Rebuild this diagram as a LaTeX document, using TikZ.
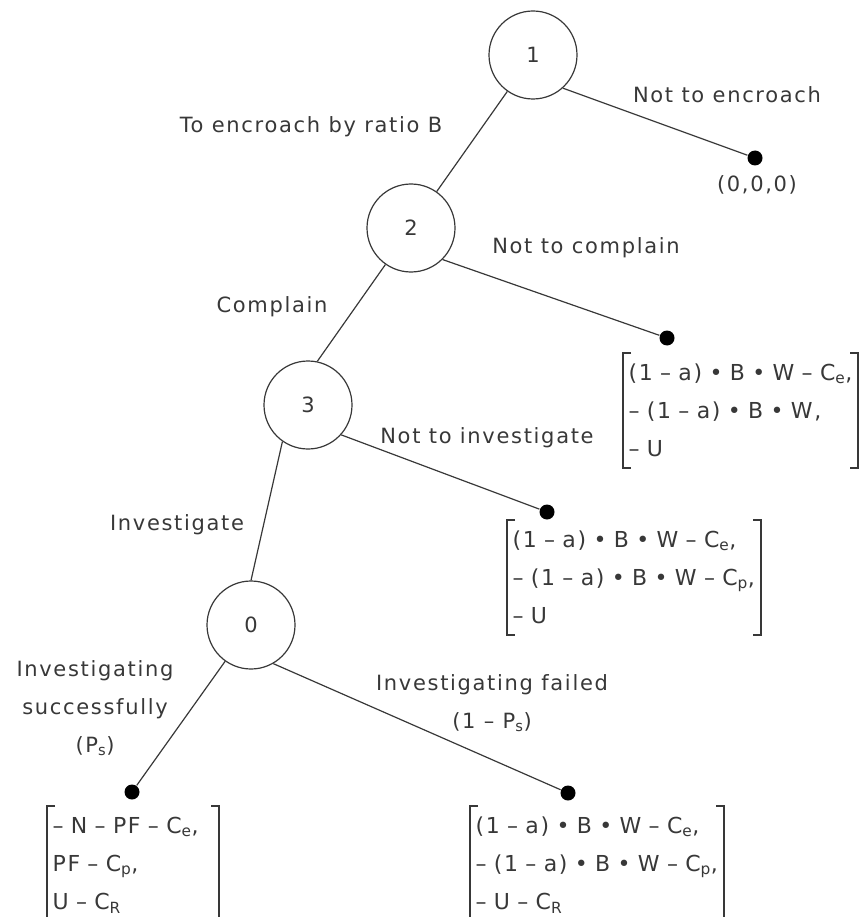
\documentclass[tikz,border=0pt]{standalone}
\usepackage{fontspec}
\setmainfont{DejaVu Sans}[LetterSpace=8]
\usepackage{tikz}

\newcommand\brackets[1]{%
  \draw[bracket] ([xshift=8pt]#1.north west) -| (#1.south west) -- ++(8pt,0);
  \draw[bracket] ([xshift=-8pt]#1.north east) -| (#1.south east) -- ++(-8pt,0);}

\begin{document}
\begin{tikzpicture}[x = 1pt, y = -1pt, line width = 1.2pt, color = black!78,
  font = \fontsize{21}{38}\selectfont,
  state/.style = {circle, draw, minimum size = 88pt, inner sep = 0pt},
  leaf/.style = {circle, fill = black, minimum size = 15pt, inner sep = 0pt},
  payoff/.style = {anchor = north west, inner xsep = 5pt, inner ysep = 0pt,
    align = left, text width = #1,
    font = \fontsize{22}{38}\selectfont\addfontfeature{LetterSpace=7.5}},
  bracket/.style = {line width = 1.8pt}]
\useasboundingbox (0, 0) rectangle (860, 917);
% Decision nodes
\node[state] (s1) at (533, 55) {1};
\node[state] (s2) at (411, 228) {2};
\node[state] (s3) at (308, 405) {3};
\node[state] (s0) at (251, 625) {0};
% End points
\node[leaf] (e1) at (755, 158) {};
\node[leaf] (e2) at (667, 338) {};
\node[leaf] (e3) at (547, 512) {};
\node[leaf] (e4) at (132, 792) {};
\node[leaf] (e5) at (568, 793) {};
% Branches
\draw (s1) -- (s2);
\draw (s1.-48) -- (e1);
\draw (s2.235) -- (s3.78);
\draw (s2.-45) -- (e2);
\draw (s3.235) -- (s0.north);
\draw (s3.-42) -- (e3);
\draw (s0) -- (e4);
\draw (s0.-60) -- (e5);
% Branch labels
\node (l1) at (311, 127) {To encroach by ratio B};
\node (l2) at (727, 95) {Not to encroach};
\node (l3) at (272, 307) {Complain};
\node (l4) at (586, 248) {Not to complain};
\node (l5) at (487, 438) {Not to investigate};
\node[anchor = east] (l6) at (248, 525) {Investigate};
\node[align = center] (l7) at (95, 708) {Investigating\\successfully\\(P\textsubscript{s})};
\node[align = center] (l8) at (492, 703) {Investigating failed\\(1 – P\textsubscript{s})};
% Payoffs
\node (p1) at (757, 185) {(0,0,0)};
\node[payoff = 224pt, minimum height = 105pt] (p2) at (623, 353)
  {\begin{tabular}{@{}l@{}}
   (1 – a) • B • W – C\textsubscript{e},\\
   – (1 – a) • B • W,\\
   – U
   \end{tabular}};
\node[payoff = 243pt, minimum height = 107pt] (p3) at (507, 520)
  {\begin{tabular}{@{}l@{}}
   (1 – a) • B • W – C\textsubscript{e},\\
   – (1 – a) • B • W – C\textsubscript{p},\\
   – U
   \end{tabular}};
\node[payoff = 161pt, minimum height = 112pt] (p4) at (47, 806)
  {\begin{tabular}{@{}l@{}}
   – N – PF – C\textsubscript{e},\\
   PF – C\textsubscript{p},\\
   U – C\textsubscript{R}
   \end{tabular}};
\node[payoff = 243pt, minimum height = 112pt] (p5) at (470, 806)
  {\begin{tabular}{@{}l@{}}
   (1 – a) • B • W – C\textsubscript{e},\\
   – (1 – a) • B • W – C\textsubscript{p},\\
   – U – C\textsubscript{R}
   \end{tabular}};
\brackets{p2}
\brackets{p3}
\brackets{p4}
\brackets{p5}
\end{tikzpicture}
\end{document}
